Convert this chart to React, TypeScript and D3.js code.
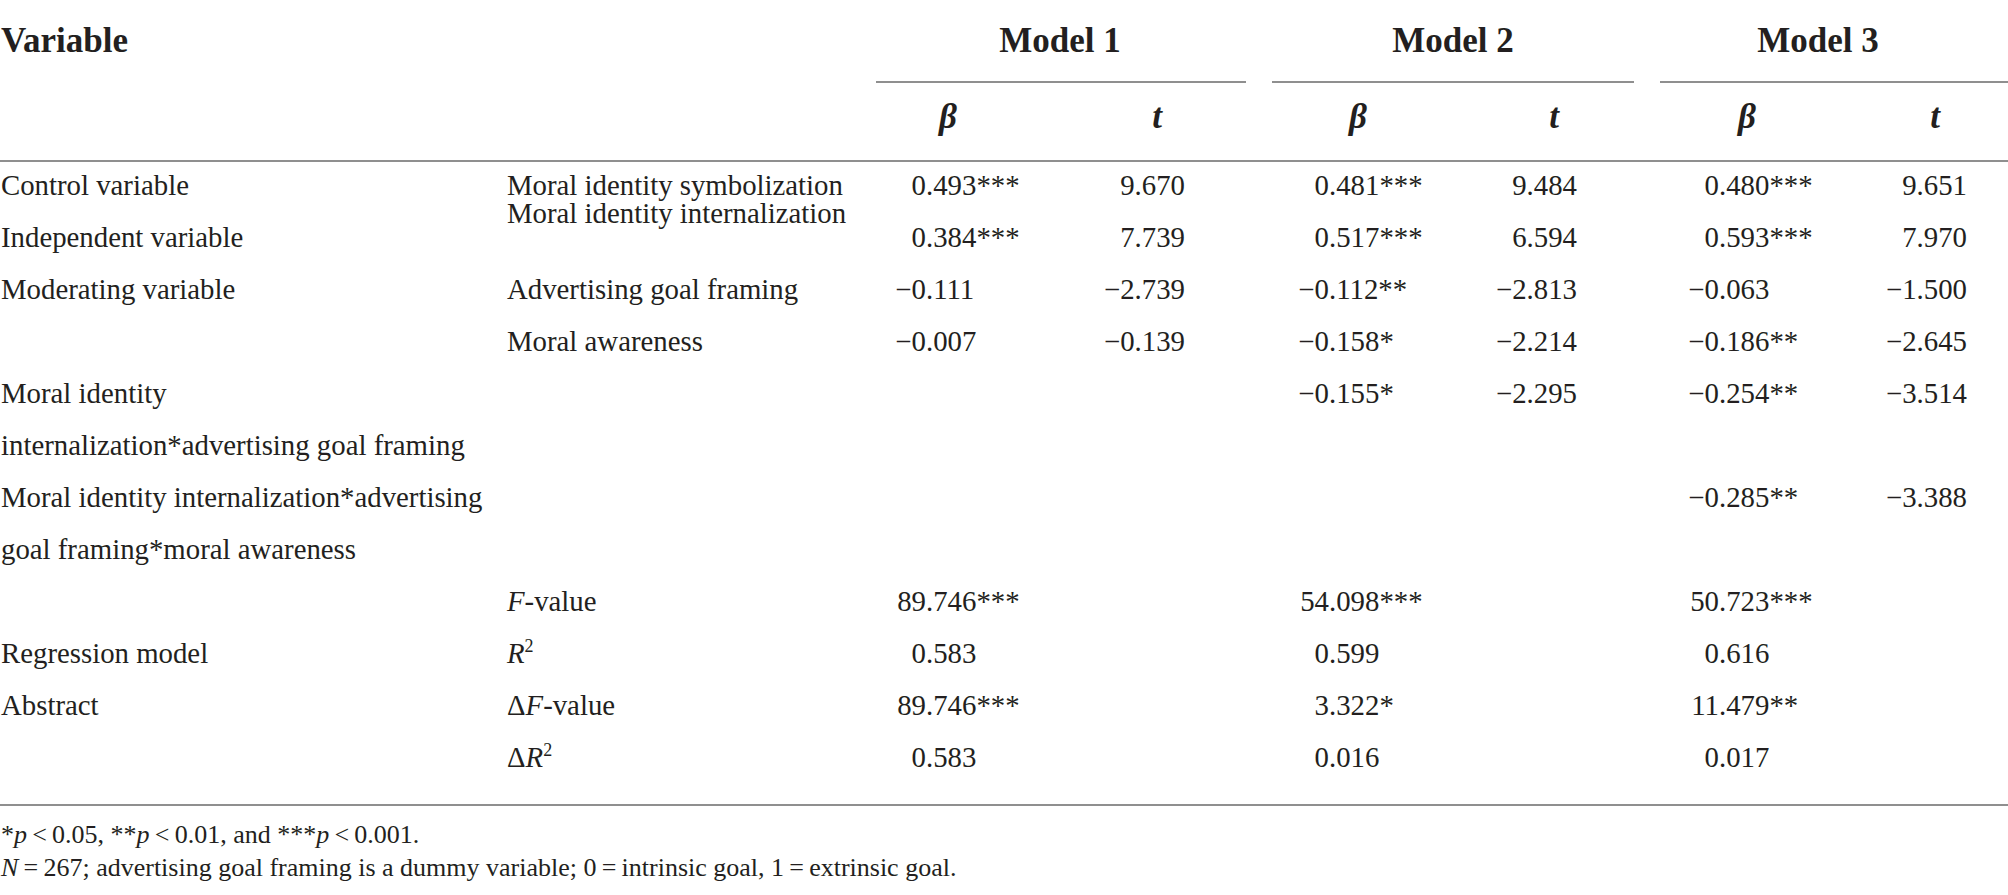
import React from "react";
import * as d3 from "d3";

// ---------- data ----------
const models = ["Model 1", "Model 2", "Model 3"];

const groupLabels: [number, string][] = [
  [0, "Control variable"],
  [1, "Independent variable"],
  [2, "Moderating variable"],
  [4, "Moral identity"],
  [5, "internalization*advertising goal framing"],
  [6, "Moral identity internalization*advertising"],
  [7, "goal framing*moral awareness"],
  [9, "Regression model"],
  [10, "Abstract"],
];

const predictorLabels: [number, string][] = [
  [0, "Moral identity symbolization"],
  [0.54, "Moral identity internalization"],
  [2, "Advertising goal framing"],
  [3, "Moral awareness"],
];

// summary labels: row, prefix (delta), italic letter, rest, superscript
const summaryLabels: [number, string, string, string, string][] = [
  [8, "", "F", "-value", ""],
  [9, "", "R", "", "2"],
  [10, "Δ", "F", "-value", ""],
  [11, "Δ", "R", "", "2"],
];

// beta and t values per row, per model ("" = empty)
const betaRows: [number, string[]][] = [
  [0, ["0.493***", "0.481***", "0.480***"]],
  [1, ["0.384***", "0.517***", "0.593***"]],
  [2, ["−0.111", "−0.112**", "−0.063"]],
  [3, ["−0.007", "−0.158*", "−0.186**"]],
  [4, ["", "−0.155*", "−0.254**"]],
  [6, ["", "", "−0.285**"]],
  [8, ["89.746***", "54.098***", "50.723***"]],
  [9, ["0.583", "0.599", "0.616"]],
  [10, ["89.746***", "3.322*", "11.479**"]],
  [11, ["0.583", "0.016", "0.017"]],
];

const tRows: [number, string[]][] = [
  [0, ["9.670", "9.484", "9.651"]],
  [1, ["7.739", "6.594", "7.970"]],
  [2, ["−2.739", "−2.813", "−1.500"]],
  [3, ["−0.139", "−2.214", "−2.645"]],
  [4, ["", "−2.295", "−3.514"]],
  [6, ["", "", "−3.388"]],
];

// ---------- layout ----------
const W = 2008;
const H = 895;
const FONT = "'Liberation Serif', 'Times New Roman', serif";
const INK = "#231f20";
const RULE = "#8f8f8f";
const BODY = 28.8;
const HEAD = 35;
const THIN = "\u2009";

const y = d3.scaleLinear().domain([0, 11]).range([195, 767]);
const modelIdx = d3.range(models.length);
const betaDecX = d3.scaleOrdinal<number, number>().domain(modelIdx).range([926, 1329, 1719]);
const tRightX = d3.scaleOrdinal<number, number>().domain(modelIdx).range([1185, 1577, 1967]);
const modelCenterX = d3.scaleOrdinal<number, number>().domain(modelIdx).range([1060, 1453, 1818]);
const betaHeadX = d3.scaleOrdinal<number, number>().domain(modelIdx).range([948, 1358, 1747]);
const tHeadX = d3.scaleOrdinal<number, number>().domain(modelIdx).range([1157, 1554, 1935]);
const ruleSeg: [number, number][] = [
  [876, 1246],
  [1272, 1634],
  [1660, 2008],
];

function splitDec(s: string): [string, string] {
  const i = s.indexOf(".");
  if (i < 0) return [s, ""];
  return [s.slice(0, i), s.slice(i)];
}

export default function App() {
  return (
    <svg
      width={W}
      height={H}
      viewBox={`0 0 ${W} ${H}`}
      style={{ position: "absolute", left: 0, top: 0, background: "#fff" }}
      fontFamily={FONT}
      fill={INK}
    >
      <rect x={0} y={0} width={W} height={H} fill="#fff" />
      {/* header */}
      <text x={1} y={52} fontSize={HEAD} fontWeight="bold">
        Variable
      </text>
      {models.map((m, i) => (
        <text key={m} x={modelCenterX(i)} y={52} fontSize={HEAD} fontWeight="bold" textAnchor="middle">
          {m}
        </text>
      ))}
      {ruleSeg.map(([a, b], i) => (
        <line key={i} x1={a} x2={b} y1={82} y2={82} stroke={RULE} strokeWidth={2} />
      ))}
      {modelIdx.map((i) => (
        <g key={i} fontSize={HEAD} fontWeight="bold" fontStyle="italic" textAnchor="middle">
          <text x={betaHeadX(i)} y={128}>β</text>
          <text x={tHeadX(i)} y={128}>t</text>
        </g>
      ))}
      <line x1={0} x2={W} y1={161} y2={161} stroke={RULE} strokeWidth={2} />

      {/* body */}
      <g fontSize={BODY}>
        {groupLabels.map(([r, s]) => (
          <text key={s} x={1} y={y(r)}>{s}</text>
        ))}
        {predictorLabels.map(([r, s]) => (
          <text key={s} x={507} y={y(r)}>{s}</text>
        ))}
        {summaryLabels.map(([r, pre, it, rest, sup]) => (
          <text key={r} x={507} y={y(r)}>
            {pre}
            <tspan fontStyle="italic">{it}</tspan>
            {rest}
            {sup && (
              <tspan fontSize={18} dy={-11}>
                {sup}
              </tspan>
            )}
          </text>
        ))}
        {betaRows.map(([r, vals]) =>
          vals.map((v, i) => {
            if (!v) return null;
            const [a, b] = splitDec(v);
            return (
              <g key={`b${r}-${i}`}>
                <text x={betaDecX(i)} y={y(r)} textAnchor="end">{a}</text>
                <text x={betaDecX(i)} y={y(r)}>{b}</text>
              </g>
            );
          })
        )}
        {tRows.map(([r, vals]) =>
          vals.map((v, i) =>
            v ? (
              <text key={`t${r}-${i}`} x={tRightX(i)} y={y(r)} textAnchor="end">
                {v}
              </text>
            ) : null
          )
        )}
      </g>
      <line x1={0} x2={W} y1={805} y2={805} stroke={RULE} strokeWidth={2} />

      {/* footnotes */}
      <g fontSize={26}>
        <text x={1} y={843}>
          *<tspan fontStyle="italic">p</tspan>
          {`${THIN}<${THIN}0.05, **`}
          <tspan fontStyle="italic">p</tspan>
          {`${THIN}<${THIN}0.01, and ***`}
          <tspan fontStyle="italic">p</tspan>
          {`${THIN}<${THIN}0.001.`}
        </text>
        <text x={1} y={876}>
          <tspan fontStyle="italic">N</tspan>
          {`${THIN}=${THIN}267; advertising goal framing is a dummy variable; 0${THIN}=${THIN}intrinsic goal, 1${THIN}=${THIN}extrinsic goal.`}
        </text>
      </g>
    </svg>
  );
}
